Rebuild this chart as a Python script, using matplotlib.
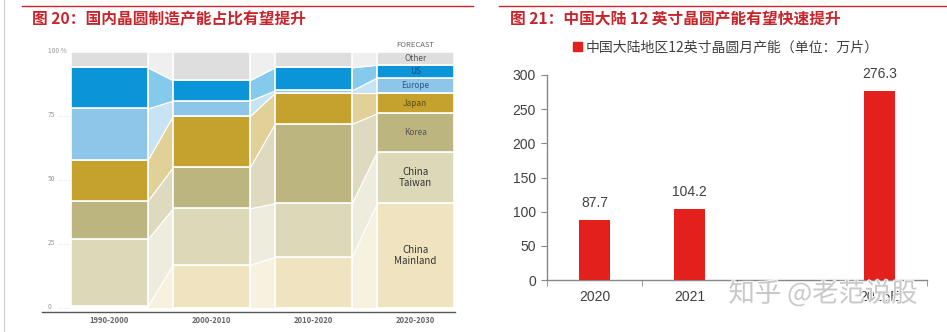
import numpy as np
import matplotlib
matplotlib.use('Agg')
import matplotlib.pyplot as plt
from matplotlib.lines import Line2D
from matplotlib.patches import Patch
from matplotlib.colors import to_rgb
import matplotlib.patheffects as pe

plt.rcParams['font.family'] = ['Noto Sans CJK SC', 'DejaVu Sans']

# left chart: share of global wafer capacity (%), stacked bottom -> top
periods = ['1990-2000', '2000-2010', '2010-2020', '2020-2030']
regions = ['China\nMainland', 'China\nTaiwan', 'Korea', 'Japan', 'Europe', 'US', 'Other']
mainland = [1, 17, 20, 41]
taiwan = [26, 22, 21, 20]
korea = [15, 16, 31, 15]
japan = [16, 20, 12, 8]
europe = [20, 6, 1, 6]
us = [16, 8, 9, 5]
other = [6, 11, 6, 5]

# right chart: China mainland 12-inch monthly capacity (10k wafers)
years = ['2020', '2021', '', '2026E']
capacity = [87.7, 104.2, np.nan, 276.3]

region_colors = ['#efe3c0', '#dcd9b8', '#bdb57f', '#c5a22d', '#8ec6ea', '#0b95d8', '#dedede']
label_colors = ['#333333', '#333333', '#555555', '#5a4a12', '#2a5a88', '#0e4a7e', '#555555']
label_sizes = [7, 7, 6, 6, 6, 6, 6]


def lighten(c, f):
    r, g, b = to_rgb(c)
    return (r + (1 - r) * f, g + (1 - g) * f, b + (1 - b) * f)


fig = plt.figure(figsize=(9.47, 3.32), dpi=100)
fig.patch.set_facecolor('white')

# page decorations
fig.add_artist(Line2D([4 / 947, 4 / 947], [0, 1], color='#cccccc', lw=0.8))
fig.add_artist(Line2D([22 / 947, 473 / 947], [1 - 6 / 332] * 2, color='#c8242b', lw=1.0))
fig.add_artist(Line2D([499 / 947, 1.0], [1 - 6 / 332] * 2, color='#c8242b', lw=1.0))
fig.text(32 / 947, 1 - 19 / 332, '图 20：国内晶圆制造产能占比有望提升', color='#c8242b',
         fontsize=11.3, fontweight='bold', ha='left', va='center')
fig.text(510 / 947, 1 - 19 / 332, '图 21：中国大陆 12 英寸晶圆产能有望快速提升', color='#c8242b',
         fontsize=11.3, fontweight='bold', ha='left', va='center')

# ---------------- left chart ----------------
ax = fig.add_axes([42 / 947, 20 / 332, 413 / 947, 260 / 332])
ax.set_xlim(-0.66, 3.39)
ax.set_ylim(-1.5, 100)
series = [mainland, taiwan, korea, japan, europe, us, other]
x = np.arange(len(periods))
w = 0.755
bottoms = np.zeros(len(periods))
for k, vals in enumerate(series):
    vals = np.array(vals, dtype=float)
    ax.bar(x, vals, w, bottom=bottoms, color=region_colors[k], edgecolor='white', lw=1.2, zorder=3)
    for i in range(len(periods) - 1):
        x0, x1 = x[i] + w / 2, x[i + 1] - w / 2
        ax.fill_between([x0, x1], [bottoms[i], bottoms[i + 1]],
                        [bottoms[i] + vals[i], bottoms[i + 1] + vals[i + 1]],
                        facecolor=lighten(region_colors[k], 0.5), edgecolor='white', lw=0.8, zorder=2)
    ax.text(x[-1], bottoms[-1] + vals[-1] / 2, regions[k], ha='center', va='center',
            fontsize=label_sizes[k], color=label_colors[k], zorder=4, linespacing=1.2)
    bottoms += vals

ax.text(x[-1], 102.6, 'FORECAST', ha='center', va='center', fontsize=5.5, color='#666666', clip_on=False)
for v, lab in zip([0, 25, 50, 75, 100], ['0', '25', '50', '75', '100 %']):
    ax.text(-0.6, v + 0.3, lab, ha='left', va='center', fontsize=4.8, color='#999999')
    if v < 100:
        ax.plot([-0.5, -0.39], [v, v], ls=':', color='#cccccc', lw=0.5)

for s in ['top', 'left', 'right']:
    ax.spines[s].set_visible(False)
ax.spines['bottom'].set_color('#555555')
ax.spines['bottom'].set_linewidth(1.0)
ax.set_xticks(x)
ax.set_xticklabels(periods, fontsize=5.5, fontweight='bold', color='#666666')
ax.tick_params(axis='x', length=0, pad=3)
ax.set_yticks([])

# ---------------- right chart ----------------
ax2 = fig.add_axes([547 / 947, 52 / 332, 380 / 947, 205 / 332])
xr = np.arange(len(years))
ax2.bar(xr, capacity, 0.316, color='#e3201b', zorder=3)
for xi, v in zip(xr, capacity):
    if not np.isnan(v):
        ax2.annotate(f'{v:.1f}', (xi, v), xytext=(0, 7), textcoords='offset points',
                     ha='center', va='bottom', fontsize=10, color='#404040',
                     family=['Liberation Sans'])
ax2.set_xlim(-0.5, 3.5)
ax2.set_ylim(0, 300)
ax2.set_yticks(range(0, 301, 50))
ax2.set_xticks(xr)
ax2.set_xticklabels(years)
ax2.set_xticks(np.arange(-0.5, 3.6, 1), minor=True)
for lab in ax2.get_xticklabels() + ax2.get_yticklabels():
    lab.set_fontfamily(['Liberation Sans'])
    lab.set_fontsize(10)
    lab.set_color('#404040')
ax2.tick_params(axis='x', which='major', length=0, pad=7)
ax2.tick_params(axis='x', which='minor', length=4, color='#888888')
ax2.tick_params(axis='y', length=4, color='#888888', pad=4)
for s in ['top', 'right']:
    ax2.spines[s].set_visible(False)
for s in ['left', 'bottom']:
    ax2.spines[s].set_color('#888888')
    ax2.spines[s].set_linewidth(1.0)

ax2.legend(handles=[Patch(color='#e3201b', label='中国大陆地区12英寸晶圆月产能（单位：万片）')],
           loc='center', bbox_to_anchor=(726 / 947, 1 - 47 / 332), bbox_transform=fig.transFigure,
           frameon=False, fontsize=10, labelcolor='#404040', handlelength=0.6, handleheight=0.6,
           handletextpad=0.3)

# watermark
fig.text(823 / 947, 1 - 294 / 332, '知乎 @老范说股', fontsize=19, color='#c4c4c4', alpha=0.9,
         ha='center', va='center', zorder=10,
         path_effects=[pe.withStroke(linewidth=1.5, foreground='white')])

fig.savefig('out.png', dpi=100)
